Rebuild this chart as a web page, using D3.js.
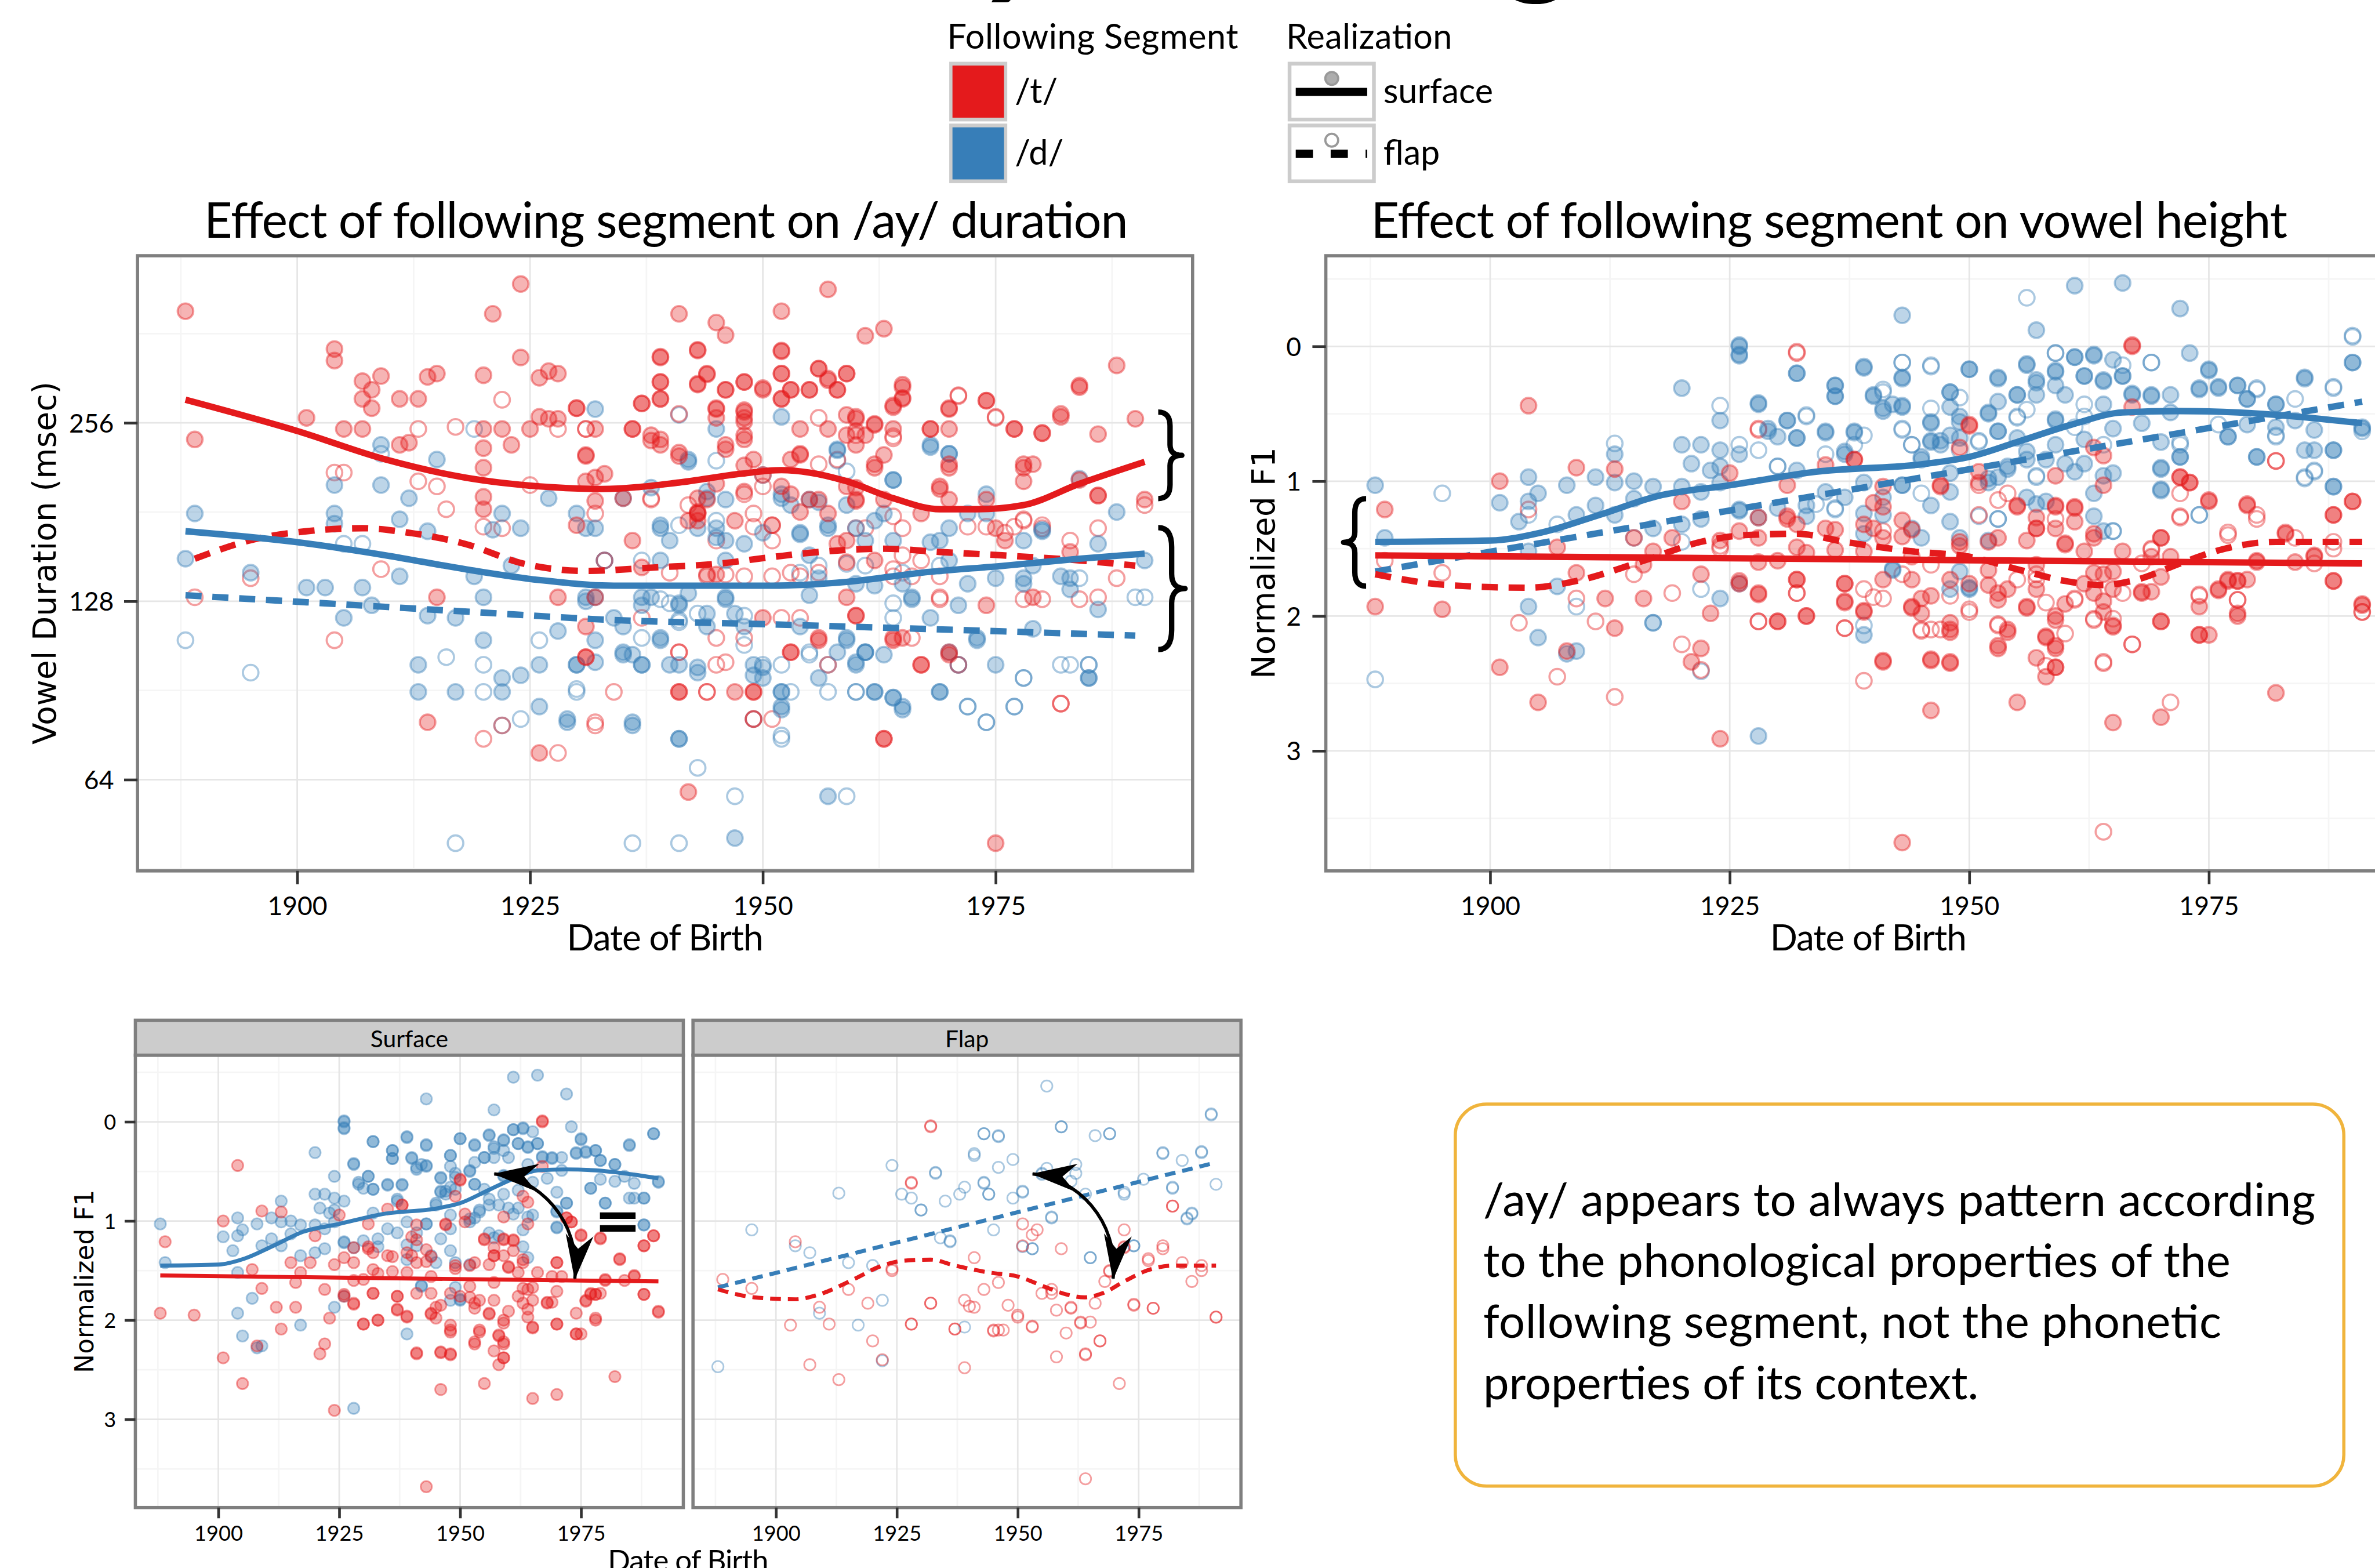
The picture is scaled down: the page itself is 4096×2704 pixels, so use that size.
<!DOCTYPE html>
<html>
<head>
<meta charset="utf-8">
<script src="https://cdn.jsdelivr.net/npm/d3@7"></script>
<style>
  body { margin: 0; background: #fff; }
  svg { display: block; }
</style>
</head>
<body>
<svg id="chart" width="4096" height="2704"></svg>
<script>
// ---- data ----
const segments = ["/t/", "/d/"];
const realizations = ["surface", "flap"];
const yearTicks = [1900, 1925, 1950, 1975];
const yearMinor = [1887.5, 1912.5, 1937.5, 1962.5, 1987.5];
const durTicks = [64, 128, 256];
const durMinor = [45.25, 90.5, 181, 362];
const f1Ticks = [0, 1, 2, 3];
const f1Minor = [-0.5, 0.5, 1.5, 2.5, 3.5];

// vowel duration (msec) by date of birth
const durT_surface = [[1888,395],[1889,240],[1904,341],[1904,326],[1901,261],[1907,301],[1908,291],[1909,307],[1907,281],[1908,271],
  [1911,281],[1913,281],[1914,306],[1915,310],[1905,250],[1907,250],[1911,235],[1912,237],[1920,308],[1920,250],[1920,232],[1920,215],
  [1920,192],[1920,183],[1921,391],[1924,439],[1924,330],[1926,305],[1927,313],[1928,310],[1927,260],[1926,262],[1928,260],[1925,250],
  [1923,235],[1922,250],[1931,226],[1931,204],[1930,271],[1932,250],[1937,276],[1936,250],[1938,239],[1939,330],[1939,300],[1939,281],
  [1939,235],[1941,391],[1941,225],[1943,339],[1943,297],[1944,310],[1945,378],[1946,360],[1946,291],[1945,271],[1946,231],[1948,300],
  [1948,269],[1948,257],[1948,240],[1950,291],[1952,395],[1952,339],[1952,310],[1952,281],[1953,291],[1955,291],[1956,316],[1957,430],
  [1957,302],[1958,291],[1959,310],[1960,262],[1961,359],[1963,369],[1962,255],[1963,226],[1964,250],[1964,274],[1965,297],[1965,281],
  [1968,250],[1970,271],[1970,250],[1974,279],[1977,250],[1980,246],[1982,265],[1984,296],[1986,245],[1988,320],[1990,260],[1991,190],
  [1960,235],[1959,244],[1962,215],[1952,200],[1954,227],[1950,209],[1948,217],[1944,190],[1943,180],[1955,190],[1959,200],[1960,190],
  [1970,215],[1969,200],[1978,215],[1978,204],[1986,193],[1984,205],[1974,190],[1914,80],[1926,71],[1941,90],[1942,61],[1949,90],
  [1963,75],[1975,50],[1932,130],[1931,103],[1928,130],[1915,130],[1953,105],[1956,110],[1964,110],[1967,100],[1970,104],[1958,160],
  [1959,130],[1960,121],[1954,181],[1974,126],[1979,130],[1944,142],[1945,142],[1943,181],[1942,175]];
const durT_surface_mid = [[1939,331],[1943,340],[1952,338],[1939,300],[1943,298],[1944,309],[1948,300],[1950,293],[1946,291],
  [1953,291],[1955,291],[1956,316],[1957,304],[1959,310],[1958,291],[1952,310],[1952,281],[1937,276],[1930,271],[1939,281],[1945,270],
  [1945,261],[1948,267],[1948,261],[1936,250],[1938,244],[1939,240],[1948,244],[1946,235],[1941,228],[1949,222],[1954,250],[1957,250],
  [1959,264],[1960,260],[1962,254],[1964,272],[1965,294],[1965,282],[1970,270],[1968,250],[1974,279],[1977,250],[1980,246],[1982,262],
  [1984,294],[1978,218],[1979,218],[1970,218],[1962,218],[1953,222],[1954,226],[1960,248],[1961,244],[1933,210],[1932,207],[1932,189],
  [1935,191],[1943,191],[1943,180],[1943,175],[1945,202],[1948,196],[1953,194],[1947,175],[1956,190],[1957,180],[1960,199],[1960,189],
  [1963,190],[1967,180],[1969,198],[1970,190],[1975,170],[1976,162],[1983,155],[1986,193],[1930,172],[1951,172],[1959,162],[1959,149],
  [1962,150],[1936,162],[1937,146],[1931,116],[1931,103],[1941,90],[1947,90],[1949,90],[1950,120],[1956,111],[1960,121],[1964,111],
  [1965,111],[1967,100],[1970,105],[1953,105],[1963,75],[1931,225]];
const durT_flap = [[1922,280],[1913,250],[1904,211],[1905,211],[1913,204],[1915,200],[1917,252],[1916,183],[1920,171],[1922,170],
  [1925,201],[1928,250],[1931,250],[1933,150],[1938,191],[1941,265],[1941,105],[1944,90],[1946,101],[1946,142],[1948,194],[1949,180],
  [1951,172],[1953,143],[1956,143],[1957,100],[1960,170],[1964,241],[1964,145],[1965,153],[1966,141],[1969,130],[1971,284],[1971,100],
  [1975,262],[1978,175],[1980,170],[1982,86],[1986,130],[1988,140],[1991,186],[1904,110],[1920,75],[1922,79],[1928,71],[1932,80],
  [1949,81],[1951,81],[1889,130],[1895,140],[1909,145],[1976,167],[1969,141]];
const durT_flap_mid = [[1931,250],[1956,261],[1964,243],[1960,244],[1971,285],[1975,261],[1956,218],[1958,222],[1950,200],[1938,190],
  [1942,186],[1932,180],[1949,171],[1961,170],[1964,178],[1965,170],[1972,171],[1974,171],[1977,171],[1978,176],[1980,172],[1983,162],
  [1986,170],[1945,162],[1951,162],[1940,143],[1944,141],[1948,141],[1951,141],[1954,141],[1964,141],[1967,150],[1969,129],[1978,129],
  [1980,129],[1984,129],[1937,120],[1952,120],[1954,120],[1945,111],[1948,111],[1966,111],[1941,105],[1945,100],[1934,90],[1944,90],
  [1932,79],[1949,81],[1982,86]];
const durD_surface = [[1889,180],[1888,151],[1895,143],[1901,135],[1903,135],[1904,201],[1904,180],[1904,173],[1907,135],[1908,126],
  [1905,120],[1909,235],[1909,201],[1911,176],[1911,141],[1912,191],[1914,168],[1914,121],[1915,222],[1917,120],[1917,90],[1913,90],
  [1913,100],[1919,141],[1920,130],[1920,110],[1921,169],[1922,180],[1922,95],[1922,90],[1923,147],[1924,170],[1924,96],[1926,85],
  [1926,100],[1927,191],[1928,114],[1929,81],[1930,100],[1931,130],[1932,270],[1932,110],[1935,191],[1935,105],[1936,80],[1937,100],
  [1938,130],[1939,170],[1939,110],[1940,100],[1941,75],[1941,127],[1942,220],[1943,170],[1943,97],[1944,191],[1945,164],[1946,190],
  [1946,130],[1947,122],[1947,51],[1949,96],[1950,99],[1952,262],[1952,191],[1952,90],[1952,85],[1954,166],[1955,131],[1956,188],
  [1957,170],[1957,60],[1958,231],[1958,105],[1959,110],[1960,101],[1961,105],[1962,90],[1963,104],[1964,88],[1965,85],[1964,205],
  [1966,130],[1968,235],[1969,90],[1970,227],[1970,105],[1973,110],[1975,100],[1979,147],[1980,169],[1982,141],[1985,95],[1986,160],
  [1988,181],[1991,150],[1968,161],[1970,150],[1972,137],[1978,137],[1965,137],[1962,136],[1960,137],[1956,140],[1955,153]];
const durD_surface_mid = [[1930,180],[1931,170],[1932,170],[1931,128],[1932,130],[1934,120],[1935,116],[1935,104],[1936,104],
  [1937,100],[1937,130],[1937,126],[1938,199],[1939,172],[1940,162],[1939,150],[1941,126],[1941,100],[1942,222],[1942,132],[1943,99],
  [1944,196],[1944,116],[1945,250],[1945,170],[1946,162],[1946,150],[1948,160],[1949,100],[1950,95],[1950,167],[1952,194],[1952,90],
  [1952,84],[1953,186],[1954,167],[1955,190],[1956,95],[1957,172],[1958,230],[1959,186],[1960,170],[1960,100],[1961,162],[1962,175],
  [1963,180],[1964,205],[1964,162],[1964,88],[1965,84],[1966,129],[1968,233],[1968,120],[1969,162],[1970,227],[1970,170],[1971,126],
  [1972,180],[1974,194],[1974,180],[1975,140],[1978,162],[1978,140],[1980,168],[1983,140],[1983,134],[1984,206],[1985,95],[1986,124],
  [1969,90],[1962,90],[1936,79],[1941,75],[1929,80],[1930,100],[1932,101],[1939,111],[1944,122],[1946,129],[1948,116],[1954,116],
  [1959,111],[1961,105],[1973,111],[1979,115]];
const durD_flap = [[1888,110],[1895,97],[1905,160],[1907,160],[1909,227],[1916,103],[1917,50],[1919,250],[1920,100],[1920,90],
  [1922,79],[1924,81],[1926,110],[1930,90],[1933,150],[1936,50],[1937,150],[1940,127],[1941,118],[1941,50],[1943,67],[1947,60],
  [1948,108],[1950,209],[1952,76],[1953,90],[1955,104],[1957,90],[1959,60],[1960,90],[1961,147],[1971,100],[1972,85],[1977,85],
  [1978,95],[1982,100],[1985,100],[1990,130],[1991,130],[1974,80],[1964,127],[1969,147]];
const durD_flap_mid = [[1941,264],[1945,221],[1933,150],[1939,129],[1941,172],[1945,175],[1948,121],[1950,100],[1952,100],
  [1955,105],[1957,100],[1960,90],[1961,105],[1971,100],[1972,85],[1974,80],[1977,85],[1978,95],[1983,100],[1985,100],[1984,140],
  [1937,111],[1930,91],[1952,75],[1958,221],[1959,212],[1954,143],[1956,147],[1959,148],[1965,143],[1964,120],[1941,119],[1943,122],
  [1949,81]];

// smoothers for duration
const durFit_T_surface = [[1888,280],[1900,248],[1909.5,222],[1918,207],[1926,200],[1932.7,198],[1941,203],[1947.6,210],[1952,213],
  [1955,211],[1959,204],[1964,191],[1969,183],[1973,183],[1978,186],[1984,202],[1991,220]];
const durFit_T_flap = [[1889,151],[1895.5,163],[1901,168],[1907,170],[1912,167],[1918,160],[1924.4,148],[1931,144],[1938.5,146],
  [1945,148],[1951,152],[1956,155],[1963,157],[1969,155],[1975.7,153],[1984,150],[1990,147]];
const durFit_D_surface = [[1888,168],[1900,161],[1909.5,153],[1918,145],[1926,139],[1934,136],[1942.6,136],[1951,136],[1959,138],
  [1967,143],[1976,147],[1984,151],[1991,154]];
const durFit_D_flap = [[1888,131],[1901,127.5],[1918,123],[1934,119],[1951,117],[1967,115],[1990,112]];

// normalized F1 by date of birth
const f1D_surface = [[1888,1.03],[1889,1.42],[1901,1.16],[1903,1.30],[1904,0.97],[1904,1.15],[1904,1.52],[1904,1.93],[1905,1.09],
  [1905,2.16],[1907,1.78],[1908,1.03],[1909,1.25],[1909,2.26],[1911,0.97],[1911,1.18],[1913,0.80],[1913,1.01],[1913,1.25],[1915,1.0],
  [1915,1.13],[1917,1.04],[1917,1.35],[1920,0.31],[1920,0.73],[1920,1.04],[1920,1.32],[1921,0.87],[1922,0.73],[1922,1.08],[1922,1.28],
  [1923,0.92],[1924,0.55],[1924,0.77],[1924,1.01],[1924,1.87],[1926,0],[1926,0.07],[1926,1.21],[1928,0.43],[1928,2.89],[1929,0.63],
  [1930,0.67],[1931,0.55],[1932,0.2],[1932,0.68],[1932,0.92],[1933,1.18],[1935,0.63],[1936,0.29],[1936,0.37],[1937,0.80],[1938,0.63],
  [1939,0.15],[1939,1.01],[1940,0.36],[1941,0.46],[1941,1.25],[1942,0.43],[1943,-0.23],[1943,0.24],[1943,0.44],[1943,1.03],[1944,1.35],
  [1945,0.82],[1946,0.56],[1946,0.70],[1946,1.18],[1947,0.70],[1948,0.34],[1948,1.08],[1949,0.56],[1950,0.17],[1952,0.49],[1952,1.01],
  [1953,0.24],[1953,0.63],[1954,0.91],[1955,0.36],[1956,0.13],[1956,0.84],[1957,-0.12],[1957,0.25],[1959,0.19],[1959,0.55],[1961,-0.45],
  [1961,0.08],[1962,0.22],[1962,0.87],[1963,0.07],[1964,0.25],[1964,0.43],[1965,0.94],[1966,-0.47],[1966,0.22],[1967,0.36],[1969,0.36],
  [1970,0.91],[1970,1.06],[1971,0.49],[1972,-0.28],[1972,0.82],[1973,0.05],[1974,0.32],[1975,0.17],[1976,0.31],[1977,0.67],[1978,0.29],
  [1979,0.39],[1980,0.82],[1982,0.43],[1984,0.55],[1985,0.24],[1986,0.77],[1988,0.77],[1988,1.04],[1990,0.12],[1991,0.60],[1958,1.15],
  [1953,0.97],[1949,1.42],[1948,1.80],[1950,1.80],[1939,2.14],[1942,1.66],[1917,2.05],[1908,2.28],[1926,1.76],[1960,0.36]];
const f1D_surface_mid = [[1926,-0.01],[1926,0.06],[1932,0.2],[1939,0.16],[1936,0.29],[1936,0.37],[1928,0.42],[1940,0.37],[1941,0.48],
  [1943,0.23],[1943,0.45],[1948,0.34],[1948,0.45],[1950,0.17],[1953,0.23],[1953,0.41],[1955,0.36],[1956,0.14],[1957,0.27],[1957,0.36],
  [1959,0.18],[1959,0.29],[1961,0.08],[1962,0.22],[1963,0.06],[1964,0.26],[1965,0.10],[1966,0.22],[1967,0.35],[1969,0.37],[1971,0.36],
  [1974,0.31],[1975,0.18],[1976,0.30],[1978,0.29],[1979,0.39],[1982,0.43],[1985,0.23],[1990,0.12],[1931,0.55],[1932,0.68],[1929,0.61],
  [1935,0.64],[1938,0.64],[1937,0.78],[1937,1.12],[1935,1.08],[1930,1.2],[1933,1.26],[1928,1.27],[1926,1.22],[1926,0.80],[1924,0.89],
  [1939,1.24],[1941,1.12],[1943,1.03],[1945,0.84],[1946,0.57],[1946,0.71],[1947,0.73],[1948,0.66],[1948,0.94],[1949,0.52],[1949,0.68],
  [1952,0.50],[1952,0.98],[1953,0.63],[1954,0.89],[1955,0.68],[1956,0.78],[1956,1.12],[1957,1.17],[1958,0.84],[1959,0.54],[1959,0.73],
  [1960,0.87],[1961,0.93],[1962,0.69],[1963,1.09],[1964,0.96],[1965,0.61],[1968,0.57],[1970,0.71],[1970,0.90],[1972,0.82],[1977,0.67],
  [1979,0.58],[1980,0.82],[1982,0.60],[1985,0.77],[1986,0.62],[1988,0.77],[1988,1.04],[1991,0.61],[1970,1.07],[1939,1.39],[1945,1.42],
  [1948,1.30],[1952,1.44],[1963,1.26],[1964,1.37],[1942,1.65],[1949,1.67],[1950,1.79]];
const f1D_flap = [[1888,2.47],[1895,1.09],[1904,1.25],[1907,1.32],[1909,1.93],[1913,0.72],[1915,1.42],[1917,2.05],[1920,1.45],
  [1922,1.80],[1922,2.41],[1924,0.44],[1926,0.73],[1928,0.77],[1930,0.89],[1933,0.51],[1935,0.80],[1936,1.20],[1938,0.73],[1939,2.07],
  [1941,0.34],[1943,0.12],[1943,0.61],[1944,0.73],[1946,0.15],[1946,0.46],[1949,0.77],[1951,0.70],[1953,1.28],[1955,0.53],[1956,-0.36],
  [1957,0.97],[1959,0.05],[1961,0.60],[1962,0.43],[1964,0.73],[1965,1.37],[1969,0.12],[1972,0.73],[1974,1.25],[1976,0.58],[1980,0.32],
  [1982,0.67],[1984,0.39],[1985,0.97],[1986,0.92],[1988,0.31],[1990,-0.07],[1991,0.63]];
const f1D_flap_mid = [[1946,0.14],[1943,0.12],[1959,0.05],[1969,0.12],[1966,0.14],[1980,0.31],[1988,0.30],[1990,-0.08],[1941,0.32],
  [1949,0.38],[1956,0.47],[1933,0.52],[1930,0.89],[1939,0.66],[1943,0.62],[1944,0.73],[1951,0.71],[1955,0.52],[1957,0.96],[1962,0.52],
  [1972,0.71],[1982,0.66],[1986,0.93],[1985,0.98],[1974,1.25],[1965,1.37],[1953,1.28],[1951,1.26],[1934,1.17],[1945,1.09],[1936,1.21]];
const f1T_surface = [[1888,1.93],[1889,1.21],[1895,1.95],[1901,1.0],[1901,2.38],[1904,0.44],[1905,2.64],[1907,1.49],[1908,2.26],
  [1909,0.90],[1909,1.68],[1912,1.87],[1913,0.91],[1913,2.09],[1915,1.42],[1916,1.87],[1917,1.52],[1920,1.15],[1921,2.34],[1922,2.24],
  [1923,1.98],[1924,2.91],[1925,0.94],[1926,1.76],[1928,1.83],[1930,2.04],[1931,1.28],[1932,1.73],[1933,2.0],[1935,1.35],[1937,1.76],
  [1937,1.90],[1938,0.84],[1939,1.97],[1940,1.35],[1941,2.34],[1941,1.04],[1943,3.68],[1944,1.93],[1945,1.87],[1946,2.33],[1946,2.70],
  [1947,1.03],[1948,2.34],[1948,2.10],[1949,1.45],[1950,0.58],[1951,1.01],[1952,1.66],[1953,2.24],[1953,1.83],[1954,2.10],[1955,2.64],
  [1955,1.18],[1956,1.93],[1957,1.62],[1958,2.16],[1958,2.45],[1959,2.0],[1959,2.38],[1959,1.18],[1960,1.47],[1961,1.20],[1962,1.76],
  [1963,1.42],[1964,1.69],[1964,1.03],[1965,2.07],[1965,2.79],[1967,0],[1968,1.83],[1970,2.04],[1970,2.75],[1970,1.42],[1972,0.97],
  [1973,1.01],[1974,2.14],[1975,1.15],[1976,1.80],[1978,2.0],[1979,1.18],[1980,1.59],[1982,2.57],[1983,1.38],[1986,1.56],[1988,1.25],
  [1988,1.74],[1990,1.15],[1991,1.92],[1978,1.74],[1977,1.74],[1969,1.56],[1963,1.83],[1966,1.52],[1957,1.35],[1953,1.42],[1944,1.56],
  [1941,1.42],[1939,1.32],[1928,1.42],[1922,1.69],[1919,1.42],[1916,1.62],[1959,2.24]];
const f1T_surface_mid = [[1967,-0.01],[1967,0.45],[1972,0.97],[1973,1.01],[1975,1.14],[1979,1.17],[1988,1.25],[1990,1.15],[1950,0.59],
  [1949,0.75],[1938,0.84],[1935,0.88],[1931,1.03],[1947,1.04],[1964,0.81],[1963,0.75],[1959,0.96],[1951,0.93],[1959,1.19],[1961,1.19],
  [1957,1.27],[1955,1.19],[1961,1.30],[1957,1.35],[1959,1.35],[1956,1.44],[1952,1.45],[1949,1.48],[1944,1.36],[1943,1.41],[1941,1.19],
  [1940,1.16],[1943,1.29],[1936,1.36],[1932,1.32],[1931,1.26],[1928,1.27],[1926,1.37],[1924,1.44],[1932,1.49],[1936,1.51],[1939,1.52],
  [1928,1.60],[1930,1.59],[1933,1.53],[1960,1.46],[1962,1.52],[1963,1.39],[1970,1.42],[1971,1.56],[1980,1.60],[1984,1.60],[1986,1.55],
  [1983,1.39],[1978,1.74],[1977,1.73],[1979,1.73],[1988,1.74],[1976,1.81],[1970,1.71],[1969,1.82],[1965,1.67],[1963,1.68],[1957,1.80],
  [1954,1.80],[1952,1.77],[1948,1.73],[1944,1.73],[1941,1.73],[1937,1.76],[1932,1.73],[1928,1.84],[1926,1.74],[1937,1.89],[1939,1.96],
  [1933,2.0],[1930,2.04],[1944,1.94],[1946,1.85],[1945,1.98],[1948,2.05],[1948,2.12],[1950,1.76],[1953,1.88],[1954,2.12],[1956,1.94],
  [1957,2.31],[1958,2.15],[1959,2.03],[1959,2.22],[1959,2.38],[1960,1.91],[1964,1.89],[1964,1.97],[1965,2.08],[1965,1.80],[1968,1.82],
  [1970,2.04],[1974,1.93],[1974,2.14],[1975,2.14],[1978,1.98],[1991,1.91],[1953,2.22],[1941,2.33],[1946,2.32],[1948,2.35]];
const f1T_flap = [[1889,1.59],[1895,1.68],[1903,2.05],[1904,1.21],[1907,2.45],[1909,1.87],[1911,2.04],[1913,2.60],[1915,1.69],
  [1919,1.83],[1920,2.21],[1922,2.40],[1924,1.50],[1928,0.61],[1928,2.04],[1932,0.05],[1932,1.83],[1937,2.09],[1939,2.48],[1941,1.37],
  [1943,1.69],[1945,2.10],[1946,1.62],[1947,2.10],[1950,1.95],[1951,1.25],[1953,2.07],[1954,1.09],[1957,1.69],[1959,1.28],[1961,1.87],
  [1963,2.02],[1964,2.34],[1964,3.60],[1967,2.21],[1969,1.50],[1971,2.64],[1972,1.26],[1974,1.85],[1977,1.38],[1978,1.88],[1980,1.28],
  [1982,0.85],[1984,1.42],[1986,1.61],[1988,1.45],[1991,1.97]];
const f1T_flap_mid = [[1932,0.04],[1928,0.62],[1982,0.85],[1972,1.09],[1972,1.27],[1980,1.25],[1977,1.40],[1988,1.50],[1991,1.97],
  [1951,1.03],[1953,1.14],[1924,1.48],[1969,1.51],[1968,1.61],[1966,1.83],[1961,1.88],[1958,1.90],[1955,1.73],[1948,1.85],[1939,1.80],
  [1940,1.86],[1941,1.87],[1932,1.83],[1928,2.04],[1937,2.09],[1945,2.11],[1946,2.10],[1950,1.97],[1953,2.06],[1960,2.13],[1963,2.03],
  [1965,2.02],[1974,1.84],[1978,1.88],[1967,2.21],[1964,2.35],[1958,2.37],[1957,1.73]];

// smoothers for F1
const f1Fit_D_surface = [[1888,1.45],[1900,1.44],[1905.4,1.38],[1911.4,1.25],[1917.5,1.11],[1925,1.03],[1934,0.93],[1945.6,0.87],
  [1950,0.82],[1955.4,0.70],[1960.7,0.58],[1966,0.49],[1972,0.48],[1978,0.49],[1984,0.52],[1991,0.57]];
const f1Fit_D_flap = [[1888,1.67],[1991,0.41]];
const f1Fit_T_surface = [[1888,1.55],[1991,1.61]];
const f1Fit_T_flap = [[1888,1.69],[1895.5,1.77],[1904,1.79],[1909,1.74],[1916,1.59],[1922,1.45],[1926.6,1.40],[1932,1.39],[1937,1.45],
  [1944,1.52],[1950,1.56],[1955.4,1.66],[1960,1.74],[1963.8,1.77],[1967.5,1.73],[1972,1.61],[1976.7,1.50],[1982,1.45],[1987,1.45],[1991,1.45]];

const noteLines = ["/ay/ appears to always pattern according", "to the phonological properties of the",
  "following segment, not the phonetic", "properties of its context."];

// ---- setup ----
const RED = "#E41A1C", BLUE = "#377EB8";
const FONT = "Lato, 'Open Sans', sans-serif";
const WIDE = "'DejaVu Sans', Verdana, sans-serif";
const S = 4096 / 4421;   // reference was drawn at 4421 wide

const dT_s = durT_surface.concat(durT_surface_mid), dT_f = durT_flap.concat(durT_flap_mid);
const dD_s = durD_surface.concat(durD_surface_mid), dD_f = durD_flap.concat(durD_flap_mid);
const fT_s = f1T_surface.concat(f1T_surface_mid), fT_f = f1T_flap.concat(f1T_flap_mid);
const fD_s = f1D_surface.concat(f1D_surface_mid), fD_f = f1D_flap.concat(f1D_flap_mid);

const svg = d3.select("#chart");
svg.append("rect").attr("width", 4096).attr("height", 2704).attr("fill", "#fff");
const root = svg.append("g").attr("transform", `scale(${S})`);

const lineGen = (x, y) => d3.line().x(d => x(d[0])).y(d => y(d[1])).curve(d3.curveMonotoneX);

function frame(g, x, y, yMajor, yMinor) {
  const [x0, x1] = x.range(), [yb, yt] = y.range();
  g.append("rect").attr("x", x0).attr("y", yt).attr("width", x1 - x0).attr("height", yb - yt).attr("fill", "#fff");
  g.selectAll(null).data(yearMinor).join("line")
    .attr("x1", d => x(d)).attr("x2", d => x(d)).attr("y1", yt).attr("y2", yb)
    .attr("stroke", "#f5f5f5").attr("stroke-width", 3);
  g.selectAll(null).data(yMinor).join("line")
    .attr("x1", x0).attr("x2", x1).attr("y1", d => y(d)).attr("y2", d => y(d))
    .attr("stroke", "#f5f5f5").attr("stroke-width", 3);
  g.selectAll(null).data(yearTicks).join("line")
    .attr("x1", d => x(d)).attr("x2", d => x(d)).attr("y1", yt).attr("y2", yb)
    .attr("stroke", "#e6e6e6").attr("stroke-width", 3);
  g.selectAll(null).data(yMajor).join("line")
    .attr("x1", x0).attr("x2", x1).attr("y1", d => y(d)).attr("y2", d => y(d))
    .attr("stroke", "#e6e6e6").attr("stroke-width", 3);
}

function border(g, x, y) {
  const [x0, x1] = x.range(), [yb, yt] = y.range();
  g.append("rect").attr("x", x0).attr("y", yt).attr("width", x1 - x0).attr("height", yb - yt)
    .attr("fill", "none").attr("stroke", "#7f7f7f").attr("stroke-width", 6);
}

function points(g, data, x, y, color, filled, r, sw) {
  g.append("g").selectAll("circle").data(data).join("circle")
    .attr("cx", d => x(d[0])).attr("cy", d => y(d[1])).attr("r", r)
    .attr("fill", filled ? color : "none").attr("fill-opacity", 0.33)
    .attr("stroke", color).attr("stroke-opacity", 0.42).attr("stroke-width", sw);
}

function fit(g, data, x, y, color, w, dash) {
  g.append("path").datum(data).attr("d", lineGen(x, y))
    .attr("fill", "none").attr("stroke", color).attr("stroke-width", w)
    .attr("stroke-dasharray", dash || null);
}

function styleAxis(a, size) {
  a.attr("font-family", FONT).attr("font-size", size);
  a.select(".domain").remove();
  a.selectAll(".tick line").attr("stroke", "#333").attr("stroke-width", 5);
  a.selectAll(".tick text").attr("fill", "#000");
}

function xAxis(g, x, yPos, len, base, size) {
  const a = g.append("g").attr("transform", `translate(0,${yPos})`)
    .call(d3.axisBottom(x).tickValues(yearTicks).tickSize(len).tickFormat(d3.format("d")));
  styleAxis(a, size);
  a.selectAll(".tick text").attr("y", base).attr("dy", null);
}

function yAxis(g, y, xPos, ticks, len, off, size) {
  const a = g.append("g").attr("transform", `translate(${xPos},0)`)
    .call(d3.axisLeft(y).tickValues(ticks).tickSize(len).tickFormat(d3.format("d")));
  styleAxis(a, size);
  a.selectAll(".tick text").attr("x", off).attr("dy", "0.36em");
}

function text(g, str, x, y, size, opts = {}) {
  const t = g.append("text").attr("x", x).attr("y", y).attr("font-family", opts.family || FONT)
    .attr("font-size", size).attr("fill", "#000").attr("text-anchor", opts.anchor || "start").text(str);
  if (opts.len) t.attr("textLength", opts.len).attr("lengthAdjust", "spacing");
  if (opts.weight) t.attr("font-weight", opts.weight);
  return t;
}

function vtitle(g, str, cx, cy, size, len) {
  g.append("text").attr("transform", `translate(${cx},${cy}) rotate(-90)`)
    .attr("font-family", WIDE).attr("font-size", size).attr("text-anchor", "middle")
    .attr("textLength", len).attr("lengthAdjust", "spacing").text(str);
}

function brace(g, x0, y0, y1, w, dir) {
  // dir = 1 points right "}", dir = -1 points left "{"
  const h = y1 - y0, ym = (y0 + y1) / 2, xm = x0 + dir * w / 2, xt = x0 + dir * w;
  const p = d3.path();
  p.moveTo(x0, y0);
  p.quadraticCurveTo(xm, y0, xm, y0 + h * 0.16);
  p.lineTo(xm, ym - h * 0.12);
  p.quadraticCurveTo(xm, ym, xt, ym);
  p.quadraticCurveTo(xm, ym, xm, ym + h * 0.12);
  p.lineTo(xm, y1 - h * 0.16);
  p.quadraticCurveTo(xm, y1, x0, y1);
  g.append("path").attr("d", p.toString()).attr("fill", "none").attr("stroke", "#000")
    .attr("stroke-width", 10).attr("stroke-linejoin", "round");
}

// ---- cut-off headline at the very top ----
const headline = "/ay/ Raising";
const hl = root.append("text").attr("font-family", FONT).attr("font-weight", 900)
  .attr("font-size", 260).attr("y", 0).text(headline);
{
  const n = hl.node();
  const c = i => { const e = n.getExtentOfChar(i); return e.x + e.width / 2; };
  const iy = headline.indexOf("y"), ig = headline.indexOf("g");
  const fs = 260 * 982 / (c(ig) - c(iy));
  hl.attr("font-size", fs).attr("y", 12 - 0.2 * fs);
  hl.attr("x", 1880 - c(iy));
}

// ---- legend ----
const leg = root.append("g");
text(leg, "Following Segment", 1763, 91, 64, { len: 542 });
text(leg, "Realization", 2394, 91, 64, { len: 309 });
[RED, BLUE].forEach((col, i) => {
  const y0 = 115 + i * 115;
  leg.append("rect").attr("x", 1767).attr("y", y0).attr("width", 108).attr("height", 111).attr("fill", "#cccccc");
  leg.append("rect").attr("x", 1773).attr("y", y0 + 7).attr("width", 96).attr("height", 97).attr("fill", col);
  text(leg, segments[i], 1889, y0 + 77, 64);
});
realizations.forEach((lab, i) => {
  const y0 = 115 + i * 115;
  leg.append("rect").attr("x", 2397).attr("y", y0).attr("width", 164).attr("height", 111).attr("fill", "#cccccc");
  leg.append("rect").attr("x", 2404).attr("y", y0 + 7).attr("width", 150).attr("height", 97).attr("fill", "#fff");
  leg.append("line").attr("x1", 2412).attr("x2", 2545).attr("y1", y0 + 56).attr("y2", y0 + 56)
    .attr("stroke", "#000").attr("stroke-width", 15).attr("stroke-dasharray", i ? "32,33" : null);
  leg.append("circle").attr("cx", 2479).attr("cy", y0 + 31).attr("r", 12)
    .attr("fill", i ? "none" : "#999").attr("fill-opacity", 0.8)
    .attr("stroke", "#999").attr("stroke-width", 4);
  text(leg, lab, 2575, y0 + 77, 64);
});

// ---- panel 1: duration ----
const p1 = root.append("g");
const x1s = d3.scaleLinear().domain([1882.85, 1996.15]).range([256, 2220]);
const y1s = d3.scaleLog().base(2).domain([44.9, 490]).range([1621, 476]);
frame(p1, x1s, y1s, durTicks, durMinor);
points(p1, dD_f, x1s, y1s, BLUE, false, 14.5, 4);
points(p1, dT_f, x1s, y1s, RED, false, 14.5, 4);
points(p1, dD_s, x1s, y1s, BLUE, true, 14.5, 4);
points(p1, dT_s, x1s, y1s, RED, true, 14.5, 4);
fit(p1, durFit_T_surface, x1s, y1s, RED, 12);
fit(p1, durFit_T_flap, x1s, y1s, RED, 12, "30,20");
fit(p1, durFit_D_surface, x1s, y1s, BLUE, 12);
fit(p1, durFit_D_flap, x1s, y1s, BLUE, 12, "30,20");
border(p1, x1s, y1s);
xAxis(p1, x1s, 1621, 25, 82, 48);
yAxis(p1, y1s, 256, durTicks, 25, -44, 48);
text(p1, "Effect of following segment on /ay/ duration", 1240, 443, 91, { anchor: "middle", len: 1720 });
text(p1, "Date of Birth", 1238, 1769, 67, { anchor: "middle", len: 366 });
vtitle(p1, "Vowel Duration (msec)", 104, 1048, 59, 676);
brace(p1, 2156, 767, 928, 44, 1);
brace(p1, 2156, 982, 1209, 50, 1);

// ---- panel 2: F1 ----
const p2 = root.append("g");
const x2s = d3.scaleLinear().domain([1882.85, 1996.15]).range([2468, 4489]);
const y2s = d3.scaleLinear().domain([3.89, -0.672]).range([1621, 476]);
frame(p2, x2s, y2s, f1Ticks, f1Minor);
points(p2, fD_f, x2s, y2s, BLUE, false, 14.5, 4);
points(p2, fT_f, x2s, y2s, RED, false, 14.5, 4);
points(p2, fD_s, x2s, y2s, BLUE, true, 14.5, 4);
points(p2, fT_s, x2s, y2s, RED, true, 14.5, 4);
fit(p2, f1Fit_D_surface, x2s, y2s, BLUE, 12);
fit(p2, f1Fit_D_flap, x2s, y2s, BLUE, 12, "30,20");
fit(p2, f1Fit_T_surface, x2s, y2s, RED, 12);
fit(p2, f1Fit_T_flap, x2s, y2s, RED, 12, "30,20");
border(p2, x2s, y2s);
xAxis(p2, x2s, 1621, 25, 82, 48);
yAxis(p2, y2s, 2468, f1Ticks, 25, -46, 48);
text(p2, "Effect of following segment on vowel height", 3405, 443, 91, { anchor: "middle", len: 1706 });
text(p2, "Date of Birth", 3478, 1769, 67, { anchor: "middle", len: 366 });
vtitle(p2, "Normalized F1", 2372, 1048, 59, 431);
brace(p2, 2543, 928, 1091, 42, -1);

// ---- bottom facets: Surface / Flap ----
const p3 = root.append("g");
const yBs = d3.scaleLinear().domain([3.89, -0.672]).range([2806, 1964]);
const facets = [
  { name: "Surface", range: [252, 1272], sets: [[fD_s, BLUE], [fT_s, RED]],
    fits: [[f1Fit_D_surface, BLUE], [f1Fit_T_surface, RED]], filled: true, dash: null },
  { name: "Flap", range: [1290, 2310], sets: [[fD_f, BLUE], [fT_f, RED]],
    fits: [[f1Fit_D_flap, BLUE], [f1Fit_T_flap, RED]], filled: false, dash: "20,13" }
];
facets.forEach((f, i) => {
  const xs = d3.scaleLinear().domain([1882.85, 1996.15]).range(f.range);
  frame(p3, xs, yBs, f1Ticks, f1Minor);
  f.sets.forEach(([d, c]) => points(p3, d, xs, yBs, c, f.filled, 10.5, 3));
  f.fits.forEach(([d, c]) => fit(p3, d, xs, yBs, c, 7.5, f.dash));
  border(p3, xs, yBs);
  p3.append("rect").attr("x", f.range[0]).attr("y", 1899).attr("width", f.range[1] - f.range[0]).attr("height", 65)
    .attr("fill", "#cccccc").attr("stroke", "#7f7f7f").attr("stroke-width", 6);
  text(p3, f.name, (f.range[0] + f.range[1]) / 2, 1949, 44, { anchor: "middle" });
  xAxis(p3, xs, 2806, 20, 62, 39);
  if (i === 0) yAxis(p3, yBs, 252, f1Ticks, 20, -36, 39);
});
text(p3, "Date of Birth", 1281, 2924, 55, { anchor: "middle", len: 299 });
vtitle(p3, "Normalized F1", 174, 2385, 47, 341);

// curved double arrows and the "=" sign
const defs = root.append("defs");
defs.append("marker").attr("id", "head").attr("markerUnits", "userSpaceOnUse")
  .attr("viewBox", "-88 -32 92 64").attr("refX", 0).attr("refY", 0)
  .attr("markerWidth", 92).attr("markerHeight", 64).attr("orient", "auto-start-reverse")
  .append("path").attr("d", "M2,0 L-82,-26 L-56,0 L-82,26 Z").attr("fill", "#000");
[0, 1002].forEach(dx => {
  const p = d3.path();
  p.moveTo(920 + dx, 2185);
  p.bezierCurveTo(1000 + dx, 2192, 1082 + dx, 2270, 1070 + dx, 2380);
  p3.append("path").attr("d", p.toString()).attr("fill", "none").attr("stroke", "#000").attr("stroke-width", 6)
    .attr("marker-start", "url(#head)").attr("marker-end", "url(#head)");
});
text(p3, "=", 1150, 2308, 106, { anchor: "middle", family: "'DejaVu Sans', sans-serif", weight: "bold" });

// ---- annotation box ----
const note = root.append("g");
note.append("rect").attr("x", 2709).attr("y", 2055).attr("width", 1654).attr("height", 711).attr("rx", 58)
  .attr("fill", "#fff").attr("stroke", "#f0b43c").attr("stroke-width", 6);
const noteLens = [1549, 1391, 1374, 922];
noteLines.forEach((l, i) => text(note, l, 2761, 2263 + i * 113.7, 86, { len: noteLens[i] }));
</script>
</body>
</html>
